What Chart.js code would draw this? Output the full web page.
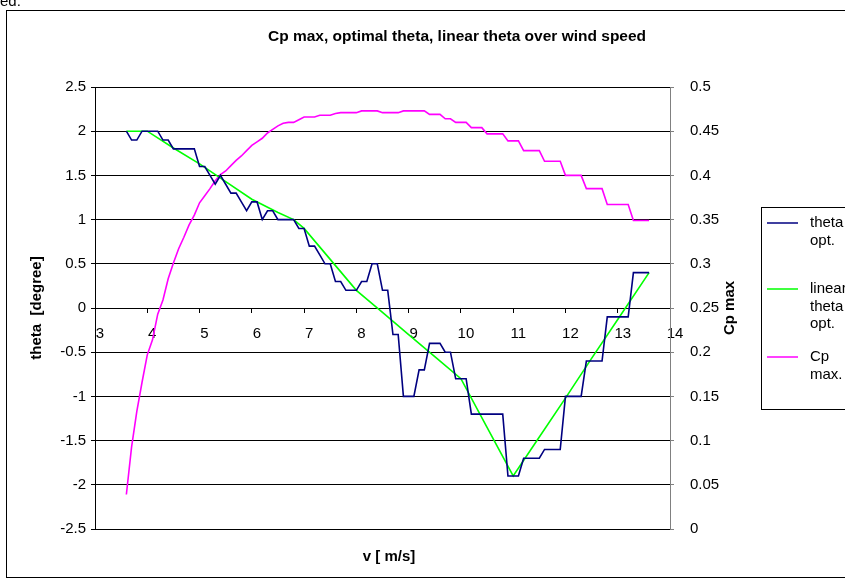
<!DOCTYPE html>
<html>
<head>
<meta charset="utf-8">
<script src="https://cdn.jsdelivr.net/npm/chart.js@4/dist/chart.umd.min.js"></script>
<style>
  html, body { margin: 0; padding: 0; background: #fff; }
  #wrap { width: 845px; height: 581px; overflow: hidden; }
</style>
</head>
<body>
<div id="wrap"><canvas id="chart" width="845" height="581"></canvas></div>
<script>
// wind speed v [m/s]
const windSpeed = [
  3.6, 3.7, 3.8, 3.9, 4.0, 4.1, 4.2, 4.3, 4.4, 4.5,
  4.6, 4.7, 4.8, 4.9, 5.0, 5.1, 5.2, 5.3, 5.4, 5.5,
  5.6, 5.7, 5.8, 5.9, 6.0, 6.1, 6.2, 6.3, 6.4, 6.5,
  6.6, 6.7, 6.8, 6.9, 7.0, 7.1, 7.2, 7.3, 7.4, 7.5,
  7.6, 7.7, 7.8, 7.9, 8.0, 8.1, 8.2, 8.3, 8.4, 8.5,
  8.6, 8.7, 8.8, 8.9, 9.0, 9.1, 9.2, 9.3, 9.4, 9.5,
  9.6, 9.7, 9.8, 9.9, 10.0, 10.1, 10.2, 10.3, 10.4, 10.5,
  10.6, 10.7, 10.8, 10.9, 11.0, 11.1, 11.2, 11.3, 11.4, 11.5,
  11.6, 11.7, 11.8, 11.9, 12.0, 12.1, 12.2, 12.3, 12.4, 12.5,
  12.6, 12.7, 12.8, 12.9, 13.0, 13.1, 13.2, 13.3, 13.4, 13.5,
  13.6
];

// theta opt. [degree]
const thetaOpt = [
  2.0, 1.9, 1.9, 2.0, 2.0, 2.0, 2.0, 1.9, 1.9, 1.8,
  1.8, 1.8, 1.8, 1.8, 1.6, 1.6, 1.5, 1.4, 1.5, 1.4,
  1.3, 1.3, 1.2, 1.1, 1.2, 1.2, 1.0, 1.1, 1.1, 1.0,
  1.0, 1.0, 1.0, 0.9, 0.9, 0.7, 0.7, 0.6, 0.5, 0.5,
  0.3, 0.3, 0.2, 0.2, 0.2, 0.3, 0.3, 0.5, 0.5, 0.2,
  0.2, -0.3, -0.3, -1.0, -1.0, -1.0, -0.7, -0.7, -0.4, -0.4,
  -0.4, -0.5, -0.5, -0.8, -0.8, -0.8, -1.2, -1.2, -1.2, -1.2,
  -1.2, -1.2, -1.2, -1.9, -1.9, -1.9, -1.7, -1.7, -1.7, -1.7,
  -1.6, -1.6, -1.6, -1.6, -1.0, -1.0, -1.0, -1.0, -0.6, -0.6,
  -0.6, -0.6, -0.1, -0.1, -0.1, -0.1, -0.1, 0.4, 0.4, 0.4,
  0.4
];

// Cp max
const cpMax = [
  0.039, 0.093, 0.133, 0.166, 0.197, 0.214, 0.243, 0.259, 0.283, 0.301,
  0.317, 0.330, 0.344, 0.355, 0.369, 0.377, 0.385, 0.394, 0.401, 0.405,
  0.411, 0.417, 0.422, 0.428, 0.434, 0.438, 0.442, 0.448, 0.452, 0.456,
  0.459, 0.460, 0.460, 0.463, 0.466, 0.466, 0.466, 0.468, 0.468, 0.468,
  0.470, 0.471, 0.471, 0.471, 0.471, 0.473, 0.473, 0.473, 0.473, 0.471,
  0.471, 0.471, 0.471, 0.473, 0.473, 0.473, 0.473, 0.473, 0.469, 0.469,
  0.469, 0.464, 0.464, 0.460, 0.460, 0.460, 0.454, 0.454, 0.454, 0.447,
  0.447, 0.447, 0.447, 0.439, 0.439, 0.439, 0.428, 0.428, 0.428, 0.428,
  0.416, 0.416, 0.416, 0.416, 0.400, 0.400, 0.400, 0.400, 0.385, 0.385,
  0.385, 0.385, 0.367, 0.367, 0.367, 0.367, 0.367, 0.349, 0.349, 0.349,
  0.349
];

// linear theta opt. (read at fewer speeds)
const linearSpeed = [3.6, 3.8, 4.0, 4.5, 5.0, 5.5, 6.0, 6.5, 6.8, 7.0, 7.5, 8.0, 8.5, 9.0, 9.5, 10.0, 10.5, 11.0, 11.5, 12.0, 12.5, 13.0, 13.6];
const linearTheta = [2.0, 2.0, 2.0, 1.81, 1.63, 1.43, 1.23, 1.08, 1.0, 0.9, 0.55, 0.2, -0.05, -0.3, -0.55, -0.8, -1.35, -1.9, -1.46, -1.02, -0.57, -0.13, 0.4];

const speedTicks = [3, 4, 5, 6, 7, 8, 9, 10, 11, 12, 13, 14];
const thetaTicks = [-2.5, -2, -1.5, -1, -0.5, 0, 0.5, 1, 1.5, 2, 2.5];
const cpTicks = [0, 0.05, 0.1, 0.15, 0.2, 0.25, 0.3, 0.35, 0.4, 0.45, 0.5];

const FONT = 'Arial, "Liberation Sans", sans-serif';
Chart.defaults.font.family = FONT;
Chart.defaults.font.size = 15;
Chart.defaults.color = '#000';

function fmt(v) {
  return String(Math.round(v * 100) / 100);
}
function pts(xs, ys) {
  return xs.map((x, i) => ({ x: x, y: ys[i] }));
}

// title, axis titles, legend and frame drawn like the Excel sheet
const excelText = {
  id: 'excelText',
  afterDraw(chart) {
    const ctx = chart.ctx;
    const area = chart.chartArea;
    ctx.save();
    ctx.strokeStyle = '#000';
    ctx.lineWidth = 1;
    ctx.strokeRect(6.5, 10.5, 902, 567);

    ctx.fillStyle = '#000';
    ctx.font = '15px ' + FONT;
    ctx.textAlign = 'left';
    ctx.textBaseline = 'alphabetic';
    ctx.fillText('ed.', 0, 6);

    ctx.font = 'bold 15.5px ' + FONT;
    ctx.textAlign = 'center';
    ctx.textBaseline = 'middle';
    ctx.fillText('Cp max, optimal theta, linear theta over wind speed', 457, 37);

    ctx.font = 'bold 15px ' + FONT;
    ctx.fillText('v [ m/s]', 389, 557);

    ctx.save();
    ctx.translate(730, (area.top + area.bottom) / 2);
    ctx.rotate(-Math.PI / 2);
    ctx.fillText('Cp max', 0, 0);
    ctx.restore();

    // legend
    ctx.strokeRect(761.5, 207.5, 120, 202);
    const rows = [223, 289, 357];
    ctx.font = '15px ' + FONT;
    ctx.textAlign = 'left';
    chart.data.datasets.forEach((ds, i) => {
      const y = rows[i];
      ctx.strokeStyle = ds.borderColor;
      ctx.lineWidth = 1.5;
      ctx.beginPath();
      ctx.moveTo(767, y);
      ctx.lineTo(798, y);
      ctx.stroke();
      ds.label.split(' ').forEach((word, j) => {
        ctx.fillText(word, 810, y + j * 17.5);
      });
    });
    ctx.restore();
  }
};

new Chart(document.getElementById('chart'), {
  type: 'line',
  data: {
    datasets: [
      {
        label: 'theta opt.',
        data: pts(windSpeed, thetaOpt),
        borderColor: '#000080',
        borderWidth: 1.6,
        yAxisID: 'y'
      },
      {
        label: 'linear theta opt.',
        data: pts(linearSpeed, linearTheta),
        borderColor: '#00FF00',
        borderWidth: 1.6,
        yAxisID: 'y'
      },
      {
        label: 'Cp max.',
        data: pts(windSpeed, cpMax),
        borderColor: '#FF00FF',
        borderWidth: 1.6,
        yAxisID: 'y1'
      }
    ]
  },
  options: {
    responsive: false,
    animation: false,
    devicePixelRatio: 1,
    elements: { point: { radius: 0 }, line: { tension: 0 } },
    layout: { padding: { top: 87, bottom: 52, left: 0, right: 0 } },
    plugins: {
      legend: { display: false },
      title: { display: false },
      tooltip: { enabled: false }
    },
    scales: {
      x: {
        type: 'linear',
        position: { y: 0 },
        min: 3,
        max: 14,
        afterBuildTicks: s => { s.ticks = speedTicks.map(v => ({ value: v })); },
        grid: { display: true, drawOnChartArea: false, drawTicks: true, tickLength: 4, color: '#000' },
        border: { display: true, color: '#000', width: 1 },
        ticks: { padding: 13, labelOffset: 5, maxRotation: 0, autoSkip: false, callback: v => fmt(v) }
      },
      y: {
        position: 'left',
        min: -2.5,
        max: 2.5,
        afterBuildTicks: s => { s.ticks = thetaTicks.map(v => ({ value: v })); },
        afterFit: s => { s.width = 95; },
        grid: { color: '#000', lineWidth: 1, drawTicks: true, tickLength: 4 },
        border: { color: '#000' },
        ticks: { padding: 5, callback: v => fmt(v) },
        title: {
          display: true,
          text: 'theta  [degree]',
          font: { weight: 'bold', size: 15 },
          padding: { top: 28, bottom: 0 }
        }
      },
      y1: {
        position: 'right',
        min: 0,
        max: 0.5,
        afterBuildTicks: s => { s.ticks = cpTicks.map(v => ({ value: v })); },
        afterFit: s => { s.width = 175; },
        grid: { drawOnChartArea: false, drawTicks: true, tickLength: 4, color: '#808080' },
        border: { color: '#808080' },
        ticks: { padding: 16, callback: v => fmt(v) }
      }
    }
  },
  plugins: [excelText]
});
</script>
</body>
</html>
